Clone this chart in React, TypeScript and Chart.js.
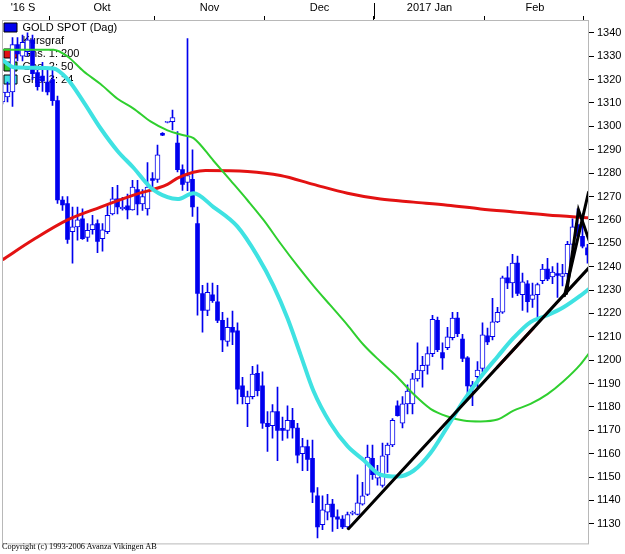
import React, { useEffect, useRef } from "react";
import { Chart, registerables } from "chart.js";

Chart.register(...registerables);

// ---- Candle data (GOLD SPOT, daily) ----
const opens = [
  1310.5, 1312.6, 1314.7, 1335, 1330, 1332, 1337, 1323, 1321.5, 1319,
  1320, 1311, 1268.5, 1267, 1255, 1257, 1260.5, 1252.5, 1255.8, 1258.4,
  1252, 1255, 1262.6, 1269, 1264.7, 1266, 1264.3, 1273, 1266.8, 1264.7,
  1277.7, 1277.3, 1297, 1301.7, 1302, 1292.9, 1281.5, 1276, 1277.3, 1258.4,
  1228.5, 1221.3, 1228, 1225, 1217, 1208, 1214, 1212.5, 1189, 1181.4,
  1184.4, 1194.4, 1189, 1173, 1172, 1178, 1170.8, 1170, 1174.3, 1171,
  1160, 1163, 1158, 1142, 1129.6, 1135, 1138.4, 1133, 1132, 1128.7,
  1134.5, 1134, 1138.4, 1142.6, 1158, 1149.5, 1146.4, 1159.5, 1163.7, 1180.5,
  1173, 1181.3, 1181.3, 1192, 1195.4, 1197.8, 1202.8, 1217, 1203.2, 1205.3,
  1209.6, 1218, 1209, 1201, 1189.3, 1192.9, 1196.5, 1210.4, 1210, 1216.4,
  1220.5, 1235.2, 1233, 1241.5, 1228, 1232.7, 1226, 1228, 1234, 1239,
  1235.6, 1237, 1235.8, 1237, 1249.5, 1258, 1253, 1248,
];
const closes = [
  1314.7, 1314.7, 1335, 1331, 1336, 1337, 1322.5, 1317, 1319.4, 1314.7,
  1311, 1268.5, 1266.4, 1251.6, 1257, 1260, 1252, 1255.5, 1258, 1250.8,
  1255.8, 1262, 1269, 1265.5, 1265.5, 1264.3, 1274, 1266.8, 1270, 1274,
  1276.9, 1287.8, 1296.2, 1302, 1303.8, 1281.5, 1275.2, 1279, 1265.5, 1228.5,
  1221.3, 1229, 1225.5, 1217, 1208.7, 1214, 1212, 1187.6, 1184.4, 1184.4,
  1194, 1187, 1173, 1171.6, 1178, 1170, 1170, 1174.3, 1171, 1159.4,
  1163, 1157.5, 1143.5, 1128.7, 1136, 1138.4, 1133, 1132, 1128.7, 1134,
  1134.8, 1139, 1142, 1158.6, 1151, 1152, 1159.1, 1163.7, 1174.3, 1176.3,
  1181.3, 1186.8, 1192, 1195.8, 1197.8, 1202.8, 1217.5, 1204.5, 1201, 1210,
  1218, 1211.3, 1200.8, 1189, 1188.5, 1195.8, 1210.8, 1207.8, 1216.4, 1220.5,
  1235.2, 1233, 1241.5, 1228.5, 1233.5, 1225, 1228, 1232.3, 1239, 1234.8,
  1237.7, 1236.3, 1237, 1249.5, 1257, 1253, 1248.8, 1245,
];
const highs = [
  1318, 1319, 1338, 1338, 1339, 1340, 1339, 1324, 1327.4, 1324.5,
  1324, 1313, 1270, 1270, 1265.5, 1265.5, 1264.7, 1258.4, 1262, 1260,
  1258.4, 1266.3, 1273.9, 1274.8, 1269.7, 1271, 1276.9, 1276.9, 1273, 1284.5,
  1280.2, 1292, 1297.3, 1302.2, 1307, 1297.8, 1283.6, 1337.5, 1290, 1265.5,
  1232, 1233, 1233, 1232, 1220.5, 1218, 1221, 1216, 1192.7, 1186.8,
  1197.4, 1198, 1195, 1178, 1181, 1188.5, 1175.7, 1180.5, 1179.4, 1173,
  1166.6, 1165.8, 1165.8, 1145.5, 1142, 1142.6, 1140.5, 1136, 1133.5, 1135,
  1135.5, 1151, 1147.7, 1163.7, 1163.7, 1155, 1164.5, 1164.5, 1175, 1182.6,
  1184.4, 1189.4, 1194.4, 1207.4, 1201.6, 1205.7, 1219.2, 1218.4, 1207.4, 1214,
  1220.5, 1220.5, 1211, 1201.5, 1191, 1199.4, 1216, 1213.7, 1226.4, 1222.6,
  1236, 1240, 1245.3, 1244.5, 1237.3, 1234, 1233, 1233, 1241, 1243.6,
  1240, 1241.5, 1241, 1250.8, 1260.5, 1264.7, 1262, 1249.5,
];
const lows = [
  1309.6, 1310.5, 1308.5, 1328, 1328, 1330, 1320, 1315.5, 1315, 1313.5,
  1309, 1267, 1264, 1249.9, 1241.5, 1251.3, 1251.6, 1250.8, 1253.9, 1246,
  1246.6, 1254.1, 1262.1, 1262.6, 1264.2, 1260.4, 1264.2, 1262.1, 1264, 1262,
  1273.9, 1276, 1296, 1301.5, 1298.5, 1280.5, 1272.6, 1272.5, 1261.5, 1219.2,
  1212, 1219, 1224.7, 1216, 1203.6, 1206, 1206.6, 1181.3, 1181.3, 1171.6,
  1183.4, 1184.7, 1170.8, 1161, 1166.6, 1157, 1165.7, 1166.6, 1166.6, 1156,
  1152.7, 1152.7, 1139, 1124, 1127.5, 1131.7, 1126.7, 1127.9, 1127.9, 1127.9,
  1133.8, 1133.8, 1138, 1142, 1149, 1146.5, 1145.7, 1152, 1163, 1176,
  1171, 1177, 1177, 1191, 1188.5, 1194, 1201.5, 1203.6, 1196, 1204.5,
  1208.7, 1210, 1199.4, 1185.5, 1180.5, 1188.5, 1195, 1206.6, 1208.7, 1216,
  1220, 1230.6, 1226.8, 1227.6, 1221.3, 1220.5, 1222.6, 1218.4, 1232.7, 1234,
  1232.7, 1226.8, 1231.8, 1230.6, 1247.8, 1252, 1248, 1241.5,
];

// ---- Moving averages (read at sample positions, x = candle index) ----
const ma200X = [-0.1, 6.2, 13, 19.6, 26.2, 33, 35.2, 40.6, 49, 55.6, 62.2, 69, 75.6, 82.2, 89, 95.6, 102.2, 109, 117.4];
const ma200Y = [1242.8, 1251.6, 1260, 1265.5, 1270.6, 1275.2, 1278.1, 1281.1, 1280.7, 1279, 1275.2, 1271.4, 1268.9, 1267.6, 1266.3, 1264.7, 1263.4, 1262.1, 1260.9];

const ma50X = [-0.1, 10.2, 13, 16.2, 19.6, 23, 26.2, 29.6, 33, 36.2, 38.2, 42.2, 45.6, 49, 52.2, 55.6, 59, 62.2, 65.6, 69, 72.2, 75.6, 79, 82.2, 85.6, 89, 92.2, 95.6, 99, 102.2, 105.6, 109, 112.2, 115.6, 117.4];
const ma50Y = [1332.8, 1332.8, 1329.9, 1323.6, 1318.1, 1311.8, 1307.6, 1302.1, 1298.3, 1296.2, 1295, 1285.3, 1276.9, 1268.4, 1260, 1249.9, 1240.3, 1231.8, 1223.4, 1215, 1206.6, 1199.4, 1192.7, 1185.5, 1179.2, 1175.9, 1174.2, 1173.8, 1174.6, 1178.4, 1181.3, 1185.5, 1191, 1198.2, 1203.2];

const ma24X = [-0.1, 2.2, 10.2, 13, 16.2, 19.6, 23, 26.2, 29.6, 33, 35, 38.2, 42.2, 47, 51, 54.2, 57, 59.6, 62.2, 65.6, 69, 72.2, 75.6, 79, 82.2, 85.6, 89, 92.2, 95.6, 99, 102.2, 105.6, 109, 112.2, 115.6, 117.4];
const ma24Y = [1328.6, 1325.3, 1324.8, 1320.2, 1310.5, 1299.2, 1289.5, 1282.3, 1273.9, 1269.7, 1268.9, 1271.4, 1265.5, 1257.1, 1244.5, 1231.8, 1217.9, 1202.4, 1186.8, 1172.9, 1163.2, 1157.3, 1151, 1150.2, 1152.7, 1160.3, 1171.6, 1182.6, 1192.7, 1201.5, 1209.5, 1216.3, 1219.2, 1222.6, 1227.6, 1230.6];

// ---- Drawn trend lines ----
const trendMainX = [69.2, 117.4];
const trendMainY = [1127.9, 1239.8];
const trendRedX = [99, 106.2];
const trendRedY = [1197.1, 1213.8];
const trendSteepX = [112.4, 117.2];
const trendSteepY = [1227.6, 1271.8];
const trendPeakX = [112.8, 115.2, 117.4];
const trendPeakY = [1228.5, 1264.2, 1250.8];

// ---- Axes ----
const monthLabels = ["'16 S", "Okt", "Nov", "Dec", "2017 Jan", "Feb"];
const monthLabelPos = [4.1, 19.9, 41.4, 63.4, 85.4, 106.5];
const monthBoundaries = [9.3, 30.3, 52.3, 74.3, 96.3, 116.1];
const yearBoundary = 74.3;
const yTicks = [1130, 1140, 1150, 1160, 1170, 1180, 1190, 1200, 1210, 1220, 1230, 1240, 1250, 1260, 1270, 1280, 1290, 1300, 1310, 1320, 1330, 1340];

const legendLabels = ["GOLD SPOT (Dag)", "Kursgraf", "Gns. 1: 200", "Gns. 2: 50", "Gns. 3: 24"];

const BLUE = "#0000ee";
const RED = "#e31212";
const GREEN = "#2fcf2f";
const CYAN = "#3fe2e2";
const legendColors = [BLUE, "transparent", RED, GREEN, CYAN];

const FONT = "'Liberation Sans', Arial, sans-serif";

const framePlugin = {
  id: "frame",
  beforeDraw(chart: any) {
    // keep the in-plot legend anchored at the top of the plot area
    const lg = chart.legend;
    if (lg) {
      lg.top = chart.chartArea.top;
      lg.bottom = chart.chartArea.bottom;
    }
  },
  afterDatasetsDraw(chart: any) {
    const { ctx, chartArea, scales } = chart;
    const { left, top, right, bottom } = chartArea;
    ctx.save();
    ctx.strokeStyle = "#b8b8b8";
    ctx.lineWidth = 1;
    ctx.strokeRect(left + 0.5, top + 0.5, right - left - 1, bottom - top - 1);
    // taller tick for the year change
    const xp = Math.round(scales.x.getPixelForValue(yearBoundary)) + 0.5;
    ctx.strokeStyle = "#000";
    ctx.beginPath();
    ctx.moveTo(xp, 3);
    ctx.lineTo(xp, top - 1);
    ctx.stroke();
    ctx.restore();
  },
};

function pts(xs: number[], ys: number[]) {
  return xs.map((x, k) => ({ x, y: ys[k] }));
}

export default function App() {
  const ref = useRef<HTMLCanvasElement>(null);

  useEffect(() => {
    const idx = opens.map((_, i) => i);
    const wickData = idx.map((i) => ({ x: i, y: [lows[i], highs[i]] }));
    const upData = idx
      .filter((i) => closes[i] >= opens[i])
      .map((i) => ({ x: i, y: [opens[i], closes[i]] }));
    const downData = idx
      .filter((i) => closes[i] < opens[i])
      .map((i) => ({ x: i, y: [closes[i], opens[i]] }));

    const lineBase = {
      type: "line" as const,
      pointRadius: 0,
      fill: false,
      cubicInterpolationMode: "monotone" as const,
      borderCapStyle: "round" as const,
    };
    const straight = { tension: 0, cubicInterpolationMode: "default" };

    const chart = new Chart(ref.current as HTMLCanvasElement, {
      type: "bar",
      data: {
        datasets: [
          { ...lineBase, ...straight, label: "trend", data: pts(trendMainX, trendMainY), borderColor: "#000", borderWidth: 3, order: 0 },
          { ...lineBase, ...straight, label: "trend red", data: pts(trendRedX, trendRedY), borderColor: RED, borderWidth: 3, order: 0 },
          { ...lineBase, ...straight, label: "trend steep", data: pts(trendSteepX, trendSteepY), borderColor: "#000", borderWidth: 3, order: 0 },
          { ...lineBase, ...straight, label: "trend peak", data: pts(trendPeakX, trendPeakY), borderColor: "#000", borderWidth: 3, order: 0 },
          { ...lineBase, label: "Gns. 3: 24", data: pts(ma24X, ma24Y), borderColor: CYAN, borderWidth: 4, order: 1 },
          { ...lineBase, label: "Gns. 2: 50", data: pts(ma50X, ma50Y), borderColor: GREEN, borderWidth: 2, order: 2 },
          { ...lineBase, label: "Gns. 1: 200", data: pts(ma200X, ma200Y), borderColor: RED, borderWidth: 3, order: 3 },
          {
            type: "bar",
            label: "up",
            data: upData as any,
            backgroundColor: "#ffffff",
            borderColor: BLUE,
            borderWidth: 1,
            borderSkipped: false,
            barThickness: 5,
            minBarLength: 1,
            grouped: false,
            order: 4,
          },
          {
            type: "bar",
            label: "down",
            data: downData as any,
            backgroundColor: BLUE,
            borderColor: BLUE,
            borderWidth: 0,
            borderSkipped: false,
            barThickness: 4,
            minBarLength: 1,
            grouped: false,
            order: 4,
          },
          {
            type: "bar",
            label: "wick",
            data: wickData as any,
            backgroundColor: BLUE,
            borderWidth: 0,
            barThickness: 1,
            grouped: false,
            order: 5,
          },
        ] as any,
      },
      options: {
        responsive: false,
        animation: false,
        events: [],
        layout: { padding: { left: 2, top: 0, right: 0, bottom: 1 } },
        scales: {
          x: {
            type: "linear",
            position: "top",
            offset: false,
            min: -0.1,
            max: 117.3,
            afterBuildTicks: (s: any) => {
              s.ticks = [...monthLabelPos, ...monthBoundaries]
                .sort((a, b) => a - b)
                .map((v) => ({ value: v }));
            },
            afterFit: (s: any) => {
              s.height = 20;
            },
            grid: {
              offset: false,
              drawOnChartArea: false,
              drawTicks: true,
              tickLength: 4,
              tickWidth: 1,
              tickColor: (c: any) =>
                c.tick && monthBoundaries.includes(c.tick.value) ? "#000000" : "rgba(0,0,0,0)",
            },
            border: { display: false },
            ticks: {
              autoSkip: false,
              maxRotation: 0,
              minRotation: 0,
              padding: 1,
              color: "#000",
              font: { family: FONT, size: 11 },
              callback: (v: any) => {
                const k = monthLabelPos.indexOf(Number(v));
                return k >= 0 ? monthLabels[k] : "";
              },
            },
          },
          y: {
            type: "linear",
            position: "right",
            min: 1121.2,
            max: 1345.5,
            afterBuildTicks: (s: any) => {
              s.ticks = yTicks.map((v) => ({ value: v }));
            },
            afterFit: (s: any) => {
              s.width = 36;
            },
            grid: {
              drawOnChartArea: false,
              drawTicks: true,
              tickLength: 5,
              tickWidth: 1,
              tickColor: "#000",
            },
            border: { display: false },
            ticks: {
              padding: 3,
              color: "#000",
              font: { family: FONT, size: 11 },
              callback: (v: any) => String(v),
            },
          },
        },
        plugins: {
          tooltip: { enabled: false },
          legend: {
            position: "chartArea",
            align: "start",
            onClick: () => {},
            labels: {
              boxWidth: 13,
              boxHeight: 9,
              padding: 2,
              color: "#000",
              font: { family: FONT, size: 11 },
              generateLabels: () =>
                legendLabels.map((t, k) => ({
                  text: t,
                  fillStyle: legendColors[k],
                  strokeStyle: legendColors[k] === "transparent" ? "transparent" : "#000",
                  lineWidth: legendColors[k] === "transparent" ? 0 : 1,
                  hidden: false,
                  datasetIndex: k,
                  fontColor: "#000",
                })) as any,
            },
          },
        },
      } as any,
      plugins: [framePlugin],
    });
    return () => chart.destroy();
  }, []);

  return (
    <div
      style={{
        position: "fixed",
        left: 0,
        top: 0,
        width: 625,
        height: 554,
        background: "#ffffff",
        overflow: "hidden",
      }}
    >
      <canvas ref={ref} width={625} height={554} style={{ display: "block" }} />
      <div
        style={{
          position: "absolute",
          left: 2,
          top: 542,
          font: "8.3px 'Liberation Serif', 'Times New Roman', serif",
          lineHeight: "10px",
          whiteSpace: "nowrap",
          color: "#000",
        }}
      >
        Copyright (c) 1993-2006 Avanza Vikingen AB
      </div>
    </div>
  );
}
